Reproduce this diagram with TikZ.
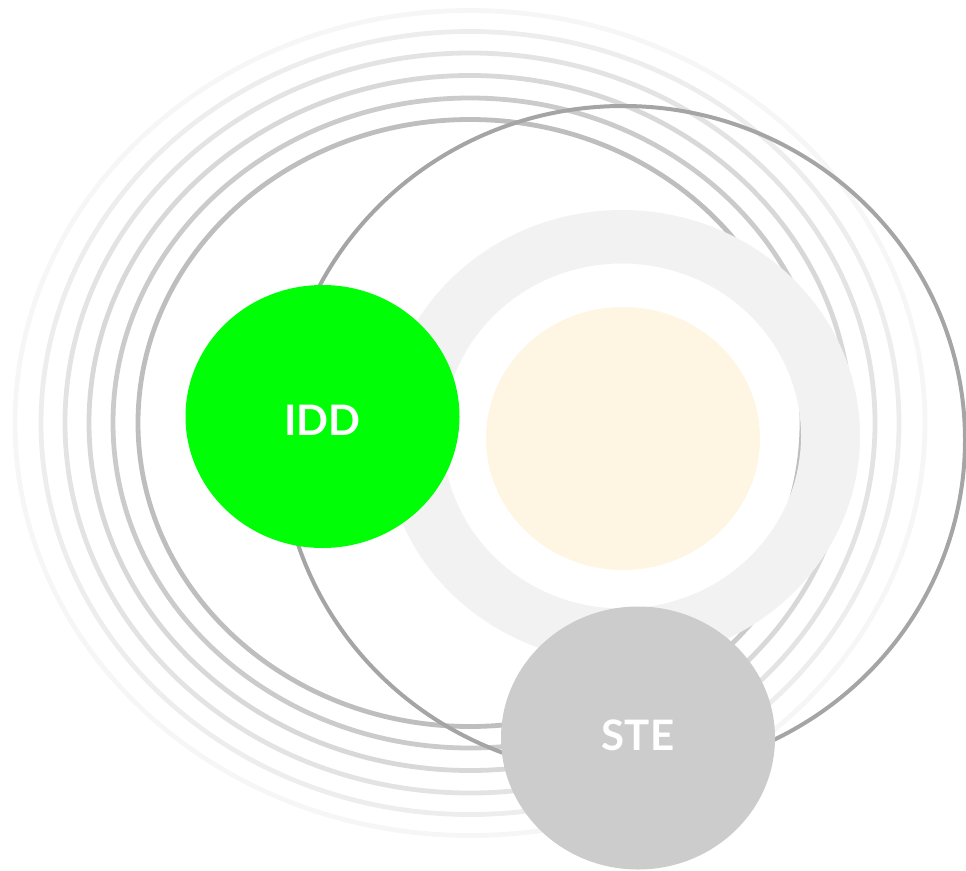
\documentclass[tikz,border=0pt]{standalone}
\usepackage{fontspec}
\setmainfont{Lato}
\usetikzlibrary{shapes.geometric}
\definecolor{ringA}{HTML}{BEBEBE}
\definecolor{ringB}{HTML}{CBCBCB}
\definecolor{ringC}{HTML}{D8D8D8}
\definecolor{ringD}{HTML}{E3E3E3}
\definecolor{ringE}{HTML}{EDEDED}
\definecolor{ringF}{HTML}{F6F6F6}
\definecolor{bandgray}{HTML}{F2F2F2}
\definecolor{cream}{HTML}{FEF5E3}
\definecolor{biggray}{HTML}{A5A5A5}
\definecolor{iddgreen}{HTML}{00FF06}
\definecolor{stegray}{HTML}{CCCCCC}
\tikzset{
  ringline/.style={line width=4.8pt},
  bubble/.style={ellipse, inner sep=0pt, minimum width=274pt, minimum height=263pt,
    text=white, font=\fontsize{42}{50}\selectfont\bfseries},
}
\begin{document}
\begin{tikzpicture}[x=1pt,y=-1pt]
\useasboundingbox (0,0) rectangle (966,870);
% concentric rings
\draw[ringline, ringF] (470,423) ellipse [x radius=455pt, y radius=412.5pt];
\draw[ringline, ringE] (470,423) ellipse [x radius=429pt, y radius=391.5pt];
\draw[ringline, ringD] (470,423) ellipse [x radius=405pt, y radius=370pt];
\draw[ringline, ringC] (470,423) ellipse [x radius=381pt, y radius=347.5pt];
\draw[ringline, ringB] (470,423) ellipse [x radius=357pt, y radius=325pt];
\draw[ringline, ringA] (470,423) ellipse [x radius=332pt, y radius=303.5pt];
% thick light band
\fill[bandgray, even odd rule] (622,436) ellipse [x radius=238pt, y radius=226pt]
  (622,436) ellipse [x radius=179pt, y radius=172.5pt];
% cream core
\fill[cream] (623,438.5) ellipse [x radius=137pt, y radius=131.5pt];
% big dark ellipse
\draw[biggray, line width=4pt] (623,440) ellipse [x radius=342pt, y radius=334pt];
% bubbles
\node[bubble, fill=iddgreen] (idd) at (322.5,416.5) {\raisebox{-4pt}[\height][\depth]{IDD}};
\node[bubble, fill=stegray] (ste) at (638,738) {\raisebox{2.5pt}[\height][\depth]{STE}};
\end{tikzpicture}
\end{document}
